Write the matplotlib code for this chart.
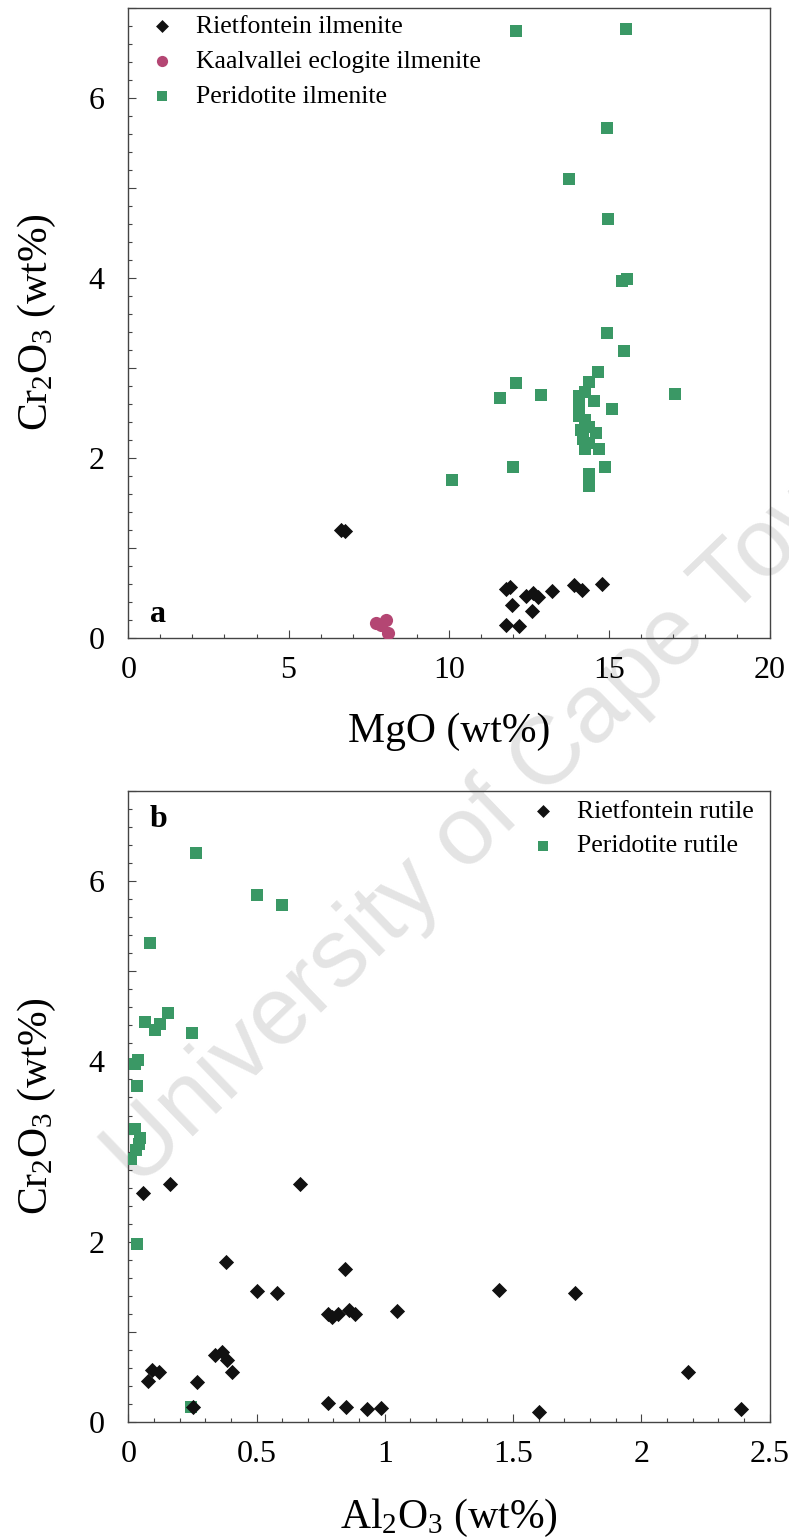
import numpy as np
import matplotlib.pyplot as plt
from matplotlib.ticker import MultipleLocator, FuncFormatter

plt.rcParams['font.family'] = ['Liberation Serif', 'DejaVu Serif']
plt.rcParams['mathtext.fontset'] = 'custom'
plt.rcParams['mathtext.rm'] = 'Liberation Serif'
plt.rcParams['mathtext.it'] = 'Liberation Serif:italic'

# ---------------- ilmenite: MgO vs Cr2O3 ----------------
riet_ilm_mgo = [6.65, 6.77, 11.77, 11.91, 11.97, 12.39, 12.62, 12.78, 12.59,
                13.22, 13.89, 14.15, 14.78, 11.79, 12.20]
riet_ilm_cr = [1.20, 1.18, 0.54, 0.56, 0.36, 0.46, 0.50, 0.45, 0.30,
               0.52, 0.58, 0.53, 0.59, 0.14, 0.13]

kaal_ilm_mgo = [7.74, 7.89, 8.05, 8.10]
kaal_ilm_cr = [0.16, 0.14, 0.19, 0.05]

perid_ilm_mgo = [12.10, 15.53, 14.93, 13.76, 14.95, 15.40, 15.57, 14.93, 15.47,
                 14.66, 12.10, 11.58, 12.88, 17.06, 15.09,
                 14.38, 14.23, 14.07, 14.54, 14.07, 14.07, 14.23, 14.12, 14.38,
                 14.59, 14.17, 14.23, 14.69, 14.38,
                 11.99, 14.87, 10.09, 14.38, 14.36]
perid_ilm_cr = [6.74, 6.76, 5.66, 5.09, 4.65, 3.96, 3.98, 3.38, 3.18,
                2.95, 2.83, 2.66, 2.69, 2.71, 2.54,
                2.84, 2.73, 2.68, 2.63, 2.56, 2.46, 2.42, 2.31, 2.34,
                2.27, 2.21, 2.10, 2.10, 2.16,
                1.90, 1.89, 1.75, 1.82, 1.68]

# ---------------- rutile: Al2O3 vs Cr2O3 ----------------
riet_rut_al = [0.058, 0.162, 0.669, 0.379, 0.844, 0.50, 0.58, 1.445, 1.743,
               0.78, 0.796, 0.818, 0.861, 0.883, 1.048,
               0.338, 0.364, 0.383, 0.403, 0.091, 0.121, 0.078, 0.266,
               0.253, 0.779, 0.848, 0.932, 0.987, 1.60, 2.181, 2.389]
riet_rut_cr = [2.54, 2.64, 2.64, 1.78, 1.70, 1.45, 1.43, 1.46, 1.43,
               1.20, 1.17, 1.20, 1.24, 1.20, 1.23,
               0.74, 0.78, 0.69, 0.56, 0.58, 0.55, 0.45, 0.44,
               0.17, 0.21, 0.17, 0.14, 0.16, 0.11, 0.55, 0.15]

perid_rut_al = [0.264, 0.502, 0.601, 0.085, 0.065, 0.104, 0.123, 0.156, 0.247,
                0.026, 0.039, 0.033, 0.025, 0.045, 0.040, 0.030, 0.010,
                0.033, 0.245]
perid_rut_cr = [6.31, 5.85, 5.74, 5.31, 4.44, 4.35, 4.42, 4.54, 4.32,
                3.97, 4.02, 3.73, 3.25, 3.15, 3.08, 3.02, 2.92,
                1.98, 0.17]

green = '#3a9865'
pink = '#b44673'
black = '#111111'
tick_col = '#444444'


def even_only(v, pos):
    if abs(v - round(v)) < 1e-6 and int(round(v)) % 2 == 0:
        return '%g' % v
    return ''


def style_axes(ax):
    ax.set_facecolor('none')
    for s in ax.spines.values():
        s.set_color(tick_col)
        s.set_linewidth(1.0)
    ax.tick_params(which='both', direction='in', colors=tick_col,
                   labelcolor='black', labelsize=23, width=0.8)
    ax.tick_params(which='major', length=6)
    ax.tick_params(which='minor', length=3)
    ax.tick_params(axis='x', which='both', pad=13)
    ax.tick_params(axis='y', which='both', pad=17)
    ax.yaxis.set_major_locator(MultipleLocator(1))
    ax.yaxis.set_minor_locator(MultipleLocator(0.2))
    ax.yaxis.set_major_formatter(FuncFormatter(even_only))
    ax.set_ylim(0, 7)
    ax.set_ylabel(r'Cr$_2$O$_3$ (wt%)', fontsize=30, labelpad=22)


fig = plt.figure(figsize=(7.89, 15.38), dpi=100)

# watermark behind the plots
fig.text(0.630, 0.4745, 'University of Cape Town', fontsize=70,
         family='Liberation Sans', color='#e4e4e4', rotation=44,
         ha='center', va='center', rotation_mode='anchor', zorder=-1)

# panel a
ax1 = fig.add_axes([0.1626, 0.5855, 0.8127, 0.4096])
style_axes(ax1)
h1 = ax1.scatter(riet_ilm_mgo, riet_ilm_cr, marker='D', s=60, color=black,
                 linewidths=0, label='Rietfontein ilmenite', zorder=3)
h2 = ax1.scatter(kaal_ilm_mgo, kaal_ilm_cr, marker='o', s=90, color=pink,
                 linewidths=0, label='Kaalvallei eclogite ilmenite', zorder=3)
h3 = ax1.scatter(perid_ilm_mgo, perid_ilm_cr, marker='s', s=80, color=green,
                 linewidths=0, label='Peridotite ilmenite', zorder=3)
ax1.set_xlim(0, 20)
ax1.xaxis.set_major_locator(MultipleLocator(5))
ax1.xaxis.set_minor_locator(MultipleLocator(1))
ax1.xaxis.set_major_formatter(FuncFormatter(lambda v, p: '%g' % v))
ax1.set_xlabel('MgO (wt%)', fontsize=30, labelpad=20)
ax1.text(0.034, 0.025, 'a', transform=ax1.transAxes, fontsize=23,
         fontweight='bold', ha='left', va='baseline')
ax1.legend(handles=[h1, h2, h3], loc='upper left',
           bbox_to_anchor=(0.032, 0.988), frameon=False, fontsize=18.5,
           handlelength=1.0, handletextpad=0.83, labelspacing=0.47,
           borderpad=0, borderaxespad=0, markerscale=0.85)

# panel b
ax2 = fig.add_axes([0.1626, 0.0754, 0.8127, 0.4103])
style_axes(ax2)
g2 = ax2.scatter(perid_rut_al, perid_rut_cr, marker='s', s=80, color=green,
                 linewidths=0, label='Peridotite rutile', zorder=3)
g1 = ax2.scatter(riet_rut_al, riet_rut_cr, marker='D', s=60, color=black,
                 linewidths=0, label='Rietfontein rutile', zorder=4)
ax2.set_xlim(0, 2.5)
ax2.xaxis.set_major_locator(MultipleLocator(0.5))
ax2.xaxis.set_minor_locator(MultipleLocator(0.1))
ax2.xaxis.set_major_formatter(FuncFormatter(lambda v, p: '%g' % v))
ax2.set_xlabel(r'Al$_2$O$_3$ (wt%)', fontsize=30, labelpad=20)
ax2.text(0.034, 0.943, 'b', transform=ax2.transAxes, fontsize=23,
         fontweight='bold', ha='left', va='baseline')
ax2.legend(handles=[g1, g2], loc='upper right',
           bbox_to_anchor=(0.976, 0.986), frameon=False, fontsize=18.5,
           handlelength=1.0, handletextpad=0.83, labelspacing=0.45,
           borderpad=0, borderaxespad=0, markerscale=0.85)

fig.savefig('out.png', dpi=100)
